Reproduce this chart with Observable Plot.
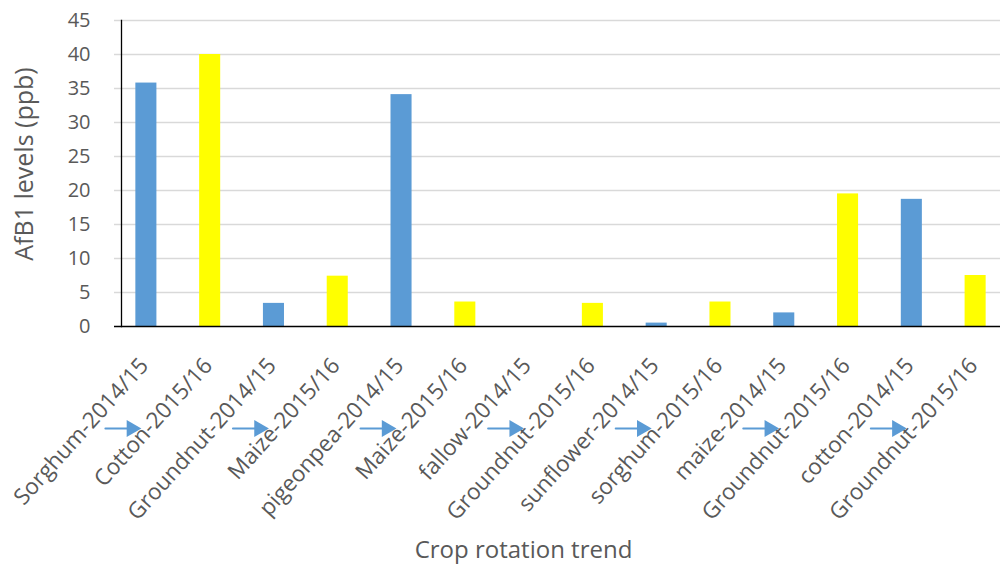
<!DOCTYPE html>
<html>
<head>
<meta charset="utf-8">
<script src="https://cdn.jsdelivr.net/npm/d3@7"></script>
<script src="https://cdn.jsdelivr.net/npm/@observablehq/plot@0.6"></script>
<style>
  html, body { margin: 0; padding: 0; background: #fff; }
  #chart svg { display: block; }
</style>
</head>
<body>
<div id="chart"></div>
<script>
// ---- data ----
const labels = [
  "Sorghum-2014/15", "Cotton-2015/16",
  "Groundnut-2014/15", "Maize-2015/16",
  "pigeonpea-2014/15", "Maize-2015/16",
  "fallow-2014/15", "Groundnut-2015/16",
  "sunflower-2014/15", "sorghum-2015/16",
  "maize-2014/15", "Groundnut-2015/16",
  "cotton-2014/15", "Groundnut-2015/16"
];
const seasons = [
  "2014/15", "2015/16", "2014/15", "2015/16", "2014/15", "2015/16", "2014/15",
  "2015/16", "2014/15", "2015/16", "2014/15", "2015/16", "2014/15", "2015/16"
];
const afb1 = [35.8, 40.0, 3.4, 7.4, 34.1, 3.6, 0, 3.4, 0.5, 3.6, 2.0, 19.5, 18.7, 7.5];
const yTicks = [0, 5, 10, 15, 20, 25, 30, 35, 40, 45];
const rotationStarts = [0, 2, 4, 6, 8, 10, 12]; // first crop of each rotation pair
const arrowLevel = -15; // arrows sit below the axis, in y units

const yLabel = "AfB1 levels (ppb)";
const xLabel = "Crop rotation trend";

const data = afb1.map((v, i) => ({i, label: labels[i], season: seasons[i], v}));
const arrows = rotationStarts.map(s => ({from: s, to: s + 1, y: arrowLevel}));

const blue = "#5b9bd5", yellow = "#ffff00", grid = "#d9d9d9", txt = "#595959";
const font = "'Open Sans', sans-serif";

const chart = Plot.plot({
  width: 1000,
  height: 566,
  marginTop: 20,
  marginBottom: 240,
  marginLeft: 121,
  marginRight: 0,
  style: {fontFamily: font, background: "#fff", overflow: "visible"},
  x: {domain: d3.range(labels.length), paddingInner: 0.67, paddingOuter: 0.225, round: false, axis: null},
  y: {domain: [0, 45], axis: null},
  color: {domain: ["2014/15", "2015/16"], range: [blue, yellow]},
  marks: [
    Plot.ruleY(yTicks.filter(d => d > 0), {y: d => d, stroke: grid, strokeWidth: 1.6, insetLeft: -7}),
    Plot.barY(data, {x: "i", y: "v", fill: "season"}),
    Plot.ruleY([0], {stroke: "#000", strokeWidth: 1.3, insetLeft: -7}),
    Plot.frame({anchor: "left", stroke: "#000", strokeWidth: 1.3}),
    Plot.axisY({ticks: yTicks, tickSize: 0, tickPadding: 31, fontSize: 20, fill: txt, label: null}),
    Plot.axisX({
      tickSize: 0, tickPadding: 35, tickRotate: -48, fontSize: 22.5, fill: txt, dx: -2,
      tickFormat: i => labels[i], label: null
    }),
    // rotation arrows between the tick labels
    Plot.arrow(arrows, {
      x1: "from", x2: "to", y1: "y", y2: "y", dx: -41,
      insetEnd: 42, headLength: 0, stroke: blue, strokeWidth: 2
    }),
    Plot.dot(arrows, {
      x: "from", y: "y", dx: -14.8, symbol: "triangle", rotate: 90, r: 6.3,
      fill: blue, stroke: null
    }),
    Plot.text([yLabel], {
      frameAnchor: "left", rotate: -90, dx: -97, dy: -9.5, text: d => d,
      fontSize: 25, fill: txt, lineAnchor: "middle", textAnchor: "middle"
    }),
    Plot.text([xLabel], {
      frameAnchor: "bottom", dx: -37.5, dy: 231, text: d => d,
      fontSize: 24, fill: txt, lineAnchor: "bottom", textAnchor: "middle"
    })
  ]
});
document.getElementById("chart").appendChild(chart);
</script>
</body>
</html>
